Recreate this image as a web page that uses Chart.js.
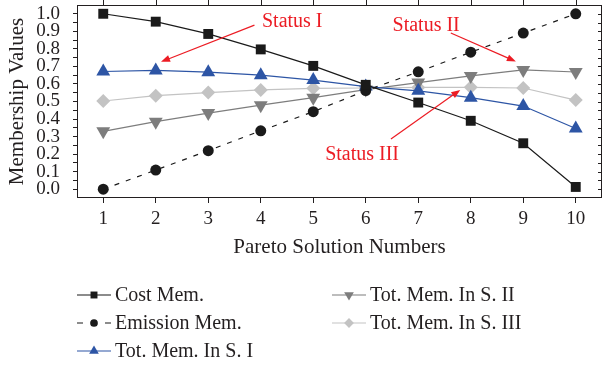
<!DOCTYPE html>
<html>
<head>
<meta charset="utf-8">
<script src="https://cdn.jsdelivr.net/npm/chart.js@4/dist/chart.umd.min.js"></script>
<style>
  html, body { margin: 0; padding: 0; background: #fff; overflow: hidden; }
  #wrap { width: 604px; height: 368px; position: relative; }
  canvas { display: block; }
</style>
</head>
<body>
<div id="wrap"><canvas id="chart"></canvas></div>
<script>
// Pareto solution numbers (x axis)
const solutions = [1, 2, 3, 4, 5, 6, 7, 8, 9, 10];

// Membership values
const costMem     = [1.0, 0.955, 0.885, 0.797, 0.703, 0.595, 0.494, 0.39, 0.262, 0.013];
const emissionMem = [0.0, 0.109, 0.22, 0.333, 0.442, 0.562, 0.669, 0.781, 0.89, 1.0];
const totS1       = [0.671, 0.677, 0.667, 0.65, 0.622, 0.585, 0.561, 0.522, 0.474, 0.346];
const totS2       = [0.33, 0.385, 0.434, 0.479, 0.522, 0.568, 0.608, 0.646, 0.68, 0.668];
const totS3       = [0.503, 0.533, 0.551, 0.566, 0.575, 0.577, 0.58, 0.581, 0.577, 0.508];

const seriesNames = ['Cost Mem.', 'Emission Mem.', 'Tot. Mem. In S. I', 'Tot. Mem. In S. II', 'Tot. Mem. In S. III'];

// y tick labels (major every 0.1, minor ticks between)
const yTickLabels = ['0.0', '0.1', '0.2', '0.3', '0.4', '0.5', '0.6', '0.7', '0.8', '0.9', '1.0'];

// Red call-outs, in data units (x = solution number, y = membership)
const statusLabels = ['Status I', 'Status II', 'Status III'];
const statusTextAt = [[4.6, 0.955], [7.15, 0.93], [5.93, 0.194]];
const statusArrowFrom = [[3.88, 0.935], [7.62, 0.89], [6.48, 0.286]];
const statusArrowTo = [[2.1, 0.726], [8.86, 0.728], [7.8, 0.566]];

const FONT = '"Liberation Serif", "DejaVu Serif", serif';
const INK = '#231f20';
const RED = '#ec1c24';

function pts(values) {
    return solutions.map((s, i) => ({ x: s, y: values[i] }));
}

// frame, outer ticks on top, inner ticks on right, status call-outs
const framePlugin = {
    id: 'frame',
    afterDatasetsDraw(chart) {
        const { ctx, chartArea: a, scales } = chart;
        ctx.save();
        ctx.strokeStyle = INK;
        ctx.lineWidth = 1;
        ctx.strokeRect(a.left + 0.5, a.top + 0.5, a.right - a.left - 1, a.bottom - a.top - 1);
        ctx.beginPath();
        scales.x.ticks.forEach(t => {
            const px = Math.round(scales.x.getPixelForValue(t.value)) + 0.5;
            ctx.moveTo(px, a.top);
            ctx.lineTo(px, a.top - 5);
        });
        scales.y.ticks.forEach(t => {
            const py = Math.round(scales.y.getPixelForValue(t.value)) + 0.5;
            ctx.moveTo(a.right, py);
            ctx.lineTo(a.right - 4, py);
        });
        ctx.stroke();

        // call-outs
        ctx.fillStyle = RED;
        ctx.strokeStyle = RED;
        ctx.lineWidth = 1.2;
        ctx.font = '20px ' + FONT;
        ctx.textAlign = 'center';
        ctx.textBaseline = 'middle';
        statusLabels.forEach((lab, i) => {
            const tx = scales.x.getPixelForValue(statusTextAt[i][0]);
            const ty = scales.y.getPixelForValue(statusTextAt[i][1]);
            ctx.fillText(lab, tx, ty);
            const x0 = scales.x.getPixelForValue(statusArrowFrom[i][0]);
            const y0 = scales.y.getPixelForValue(statusArrowFrom[i][1]);
            const x1 = scales.x.getPixelForValue(statusArrowTo[i][0]);
            const y1 = scales.y.getPixelForValue(statusArrowTo[i][1]);
            const ang = Math.atan2(y1 - y0, x1 - x0);
            const head = 9;
            ctx.beginPath();
            ctx.moveTo(x0, y0);
            ctx.lineTo(x1 - Math.cos(ang) * head * 0.8, y1 - Math.sin(ang) * head * 0.8);
            ctx.stroke();
            ctx.beginPath();
            ctx.moveTo(x1, y1);
            ctx.lineTo(x1 - head * Math.cos(ang) + 3.5 * Math.sin(ang), y1 - head * Math.sin(ang) - 3.5 * Math.cos(ang));
            ctx.lineTo(x1 - head * Math.cos(ang) - 3.5 * Math.sin(ang), y1 - head * Math.sin(ang) + 3.5 * Math.cos(ang));
            ctx.closePath();
            ctx.fill();
        });
        ctx.restore();
    }
};

// two-column legend under the plot, filled column by column
const legendPlugin = {
    id: 'colLegend',
    afterDraw(chart) {
        const { ctx } = chart;
        const colX = [77, 332];
        const rowY = [295, 323, 351];
        ctx.save();
        ctx.font = '20px ' + FONT;
        ctx.textBaseline = 'middle';
        ctx.textAlign = 'left';
        chart.data.datasets.forEach((ds, i) => {
            const col = Math.floor(i / 3);
            const row = i % 3;
            const x = colX[col];
            const y = rowY[row];
            ctx.strokeStyle = ds.borderColor;
            ctx.lineWidth = ds.borderWidth;
            ctx.beginPath();
            if (ds.borderDash) {
                ctx.moveTo(x, y); ctx.lineTo(x + 6, y);
                ctx.moveTo(x + 28, y); ctx.lineTo(x + 34, y);
            } else {
                ctx.moveTo(x, y); ctx.lineTo(x + 34, y);
            }
            ctx.stroke();
            ctx.fillStyle = ds.pointBackgroundColor;
            ctx.strokeStyle = ds.pointBackgroundColor;
            Chart.helpers.drawPoint(ctx, {
                pointStyle: ds.pointStyle,
                radius: ds.pointRadius * 0.7,
                rotation: ds.pointRotation || 0,
                borderWidth: 0
            }, x + 17, y);
            ctx.fillStyle = INK;
            ctx.fillText(ds.label, x + 38, y + 1);
        });
        ctx.restore();
    }
};

const ctx = document.getElementById('chart').getContext('2d');
new Chart(ctx, {
    type: 'line',
    data: {
        datasets: [
            {
                label: seriesNames[0], data: pts(costMem),
                borderColor: '#1a1a1a', borderWidth: 1.2,
                pointStyle: 'rect', pointRadius: 7, pointBackgroundColor: '#1a1a1a', pointBorderWidth: 0
            },
            {
                label: seriesNames[1], data: pts(emissionMem),
                borderColor: '#1a1a1a', borderWidth: 1.2, borderDash: [5, 7],
                pointStyle: 'circle', pointRadius: 5.5, pointBackgroundColor: '#1a1a1a', pointBorderWidth: 0
            },
            {
                label: seriesNames[2], data: pts(totS1),
                borderColor: '#2d55a5', borderWidth: 1.2,
                pointStyle: 'triangle', pointRadius: 8, pointBackgroundColor: '#2d55a5', pointBorderWidth: 0
            },
            {
                label: seriesNames[3], data: pts(totS2),
                borderColor: '#7d7d7d', borderWidth: 1.2,
                pointStyle: 'triangle', pointRotation: 180, pointRadius: 8, pointBackgroundColor: '#7d7d7d', pointBorderWidth: 0
            },
            {
                label: seriesNames[4], data: pts(totS3),
                borderColor: '#c3c3c3', borderWidth: 1.2,
                pointStyle: 'rectRot', pointRadius: 7, pointBackgroundColor: '#c3c3c3', pointBorderWidth: 0
            }
        ]
    },
    options: {
        responsive: true,
        maintainAspectRatio: false,
        animation: false,
        layout: { autoPadding: false, padding: { top: 5, right: 2, left: 0, bottom: 100 } },
        plugins: {
            legend: { display: false },
            tooltip: { enabled: false }
        },
        scales: {
            x: {
                type: 'linear',
                min: 0.5,
                max: 10.5,
                afterBuildTicks: scale => { scale.ticks = solutions.map(v => ({ value: v })); },
                afterFit: scale => {
                    scale.height = 70;
                    scale.paddingLeft = 0;
                    scale.paddingRight = 0;
                },
                border: { display: false },
                grid: { drawOnChartArea: false, drawTicks: true, tickLength: 5, color: INK },
                ticks: {
                    color: INK, padding: 5, autoSkip: false, maxRotation: 0,
                    font: { family: FONT, size: 19 },
                    callback: v => String(v)
                },
                title: {
                    display: true, text: 'Pareto Solution Numbers', color: INK,
                    font: { family: FONT, size: 21 }, padding: { top: 4, bottom: 8 }
                }
            },
            y: {
                min: -0.05,
                max: 1.05,
                afterBuildTicks: scale => {
                    const t = [];
                    for (let i = 0; i <= 20; i++) t.push({ value: i * 0.05 });
                    scale.ticks = t;
                },
                afterFit: scale => {
                    scale.width = 77;
                    scale.paddingTop = 0;
                    scale.paddingBottom = 0;
                },
                border: { display: false },
                grid: { drawOnChartArea: false, drawTicks: true, tickLength: 4, color: INK },
                ticks: {
                    color: INK, padding: 13, autoSkip: false,
                    font: { family: FONT, size: 19 },
                    callback: (v, i) => (i % 2 === 0 ? yTickLabels[i / 2] : '')
                },
                title: {
                    display: true, text: 'Membership Values', color: INK,
                    font: { family: FONT, size: 21 }, padding: { top: 5, bottom: 4 }
                }
            }
        }
    },
    plugins: [framePlugin, legendPlugin]
});
</script>
</body>
</html>
